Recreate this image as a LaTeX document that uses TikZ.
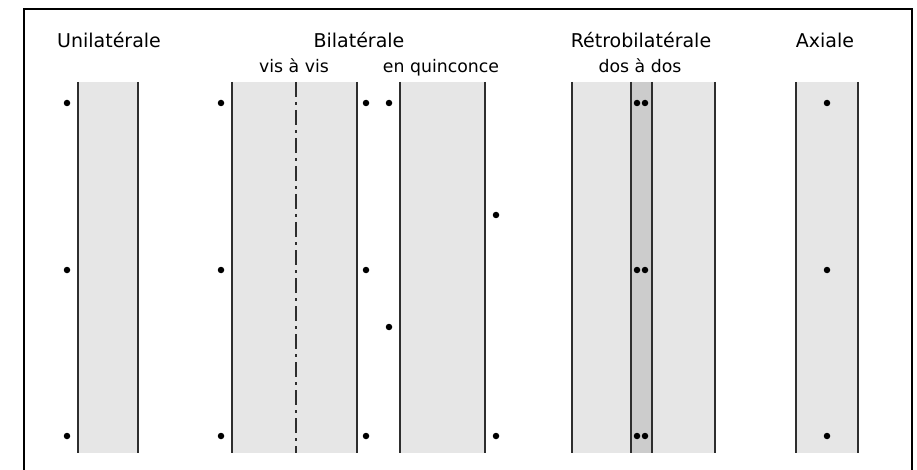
\documentclass[tikz,border=0pt]{standalone}
\usepackage{fontspec}
\setmainfont{DejaVu Sans}
\definecolor{road}{HTML}{E6E6E6}
\definecolor{midroad}{HTML}{CCCCCC}
\definecolor{edge}{HTML}{2E2E2E}
\begin{document}
\begin{tikzpicture}[x=1pt,y=1pt,
  title/.style={anchor=base,inner sep=0pt,font=\fontsize{19}{22}\selectfont},
  subtitle/.style={anchor=base,inner sep=0pt,font=\fontsize{17.3}{20}\selectfont},
  strip/.style={fill=road,draw=none},
  border/.style={draw=edge,line width=1.1pt},
  pt/.style={circle,fill=black,inner sep=0pt,minimum size=6.5pt}]
\useasboundingbox (0,0) rectangle (917,-470);
% frame
\draw[line width=2pt,line join=miter] (24,-470) -- (24,-9) -- (912,-9) -- (912,-470);
% titles
\node[title] (t1) at (109,-48) {Unilatérale};
\node[title] (t2) at (359,-48) {Bilatérale};
\node[subtitle] (s1) at (294,-73) {vis à vis};
\node[subtitle] (s2) at (441,-73) {en quinconce};
\node[title] (t3) at (641,-48) {Rétrobilatérale};
\node[subtitle] (s3) at (640,-73) {dos à dos};
\node[title] (t4) at (825,-48) {Axiale};
% strips
\fill[strip] (78,-82) rectangle (138,-453);
\fill[strip] (232,-82) rectangle (357,-453);
\fill[strip] (400,-82) rectangle (485,-453);
\fill[strip] (572,-82) rectangle (715,-453);
\fill[midroad] (631,-82) rectangle (652,-453);
\fill[strip] (796,-82) rectangle (858,-453);
\foreach \x in {78,138,232,357,400,485,572,631,652,715,796,858}
  \draw[border] (\x,-82) -- (\x,-453);
\draw[edge,line width=1.1pt,dash pattern=on 15pt off 5pt on 3pt off 5pt] (296,-82) -- (296,-453);
% dots
\foreach \y in {103,270,436}{
  \node[pt] at (67,-\y) {};
  \node[pt] at (221,-\y) {};
  \node[pt] at (366,-\y) {};
  \node[pt] at (637,-\y) {};
  \node[pt] at (645,-\y) {};
  \node[pt] at (827,-\y) {};
}
\node[pt] (q1) at (389,-103) {};
\node[pt] (q2) at (496,-215) {};
\node[pt] (q3) at (389,-327) {};
\node[pt] (q4) at (496,-436) {};
\end{tikzpicture}
\end{document}
